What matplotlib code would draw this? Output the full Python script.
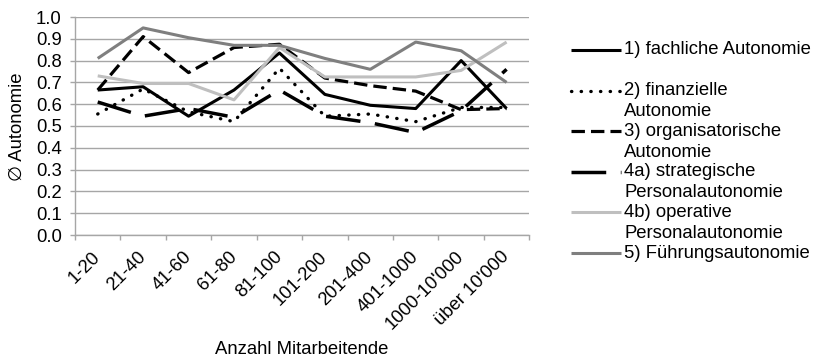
import matplotlib
matplotlib.use("Agg")
import matplotlib.pyplot as plt
from matplotlib.lines import Line2D
import numpy as np

plt.rcParams['font.family'] = ['Liberation Sans', 'DejaVu Sans']
plt.rcParams['font.size'] = 13.3

# Kategorien (Anzahl Mitarbeitende) und Mittelwerte je Autonomie-Dimension
kategorien = ['1-20', '21-40', '41-60', '61-80', '81-100', '101-200',
              '201-400', '401-1000', "1000-10'000", "über 10'000"]
fachlich = [0.665, 0.68, 0.545, 0.665, 0.835, 0.645, 0.595, 0.58, 0.80, 0.58]
finanziell = [0.555, 0.67, 0.565, 0.52, 0.765, 0.545, 0.555, 0.52, 0.585, 0.585]
organisatorisch = [0.665, 0.91, 0.745, 0.86, 0.875, 0.72, 0.685, 0.66, 0.575, 0.58]
strategisch = [0.61, 0.545, 0.58, 0.54, 0.665, 0.545, 0.515, 0.47, 0.57, 0.76]
operativ = [0.73, 0.695, 0.695, 0.62, 0.86, 0.725, 0.725, 0.725, 0.755, 0.885]
fuehrung = [0.81, 0.95, 0.905, 0.87, 0.87, 0.81, 0.76, 0.885, 0.845, 0.70]

labels = ['1) fachliche Autonomie',
          '2) finanzielle\nAutonomie',
          '3) organisatorische\nAutonomie',
          '4a) strategische\nPersonalautonomie',
          '4b) operative\nPersonalautonomie',
          '5) Führungsautonomie']

# Linienstile je Reihe
stile = [
    dict(color='black', lw=2.2, linestyle='-'),
    dict(color='black', lw=2.4, linestyle=(0, (0.1, 2.8)), dash_capstyle='round'),
    dict(color='black', lw=2.3, linestyle=(0, (4.2, 1.9))),
    dict(color='black', lw=2.5, linestyle=(0, (10, 4.2))),
    dict(color='#bfbfbf', lw=2.2, linestyle='-'),
    dict(color='#7f7f7f', lw=2.2, linestyle='-'),
]
reihen = [fachlich, finanziell, organisatorisch, strategisch, operativ, fuehrung]

W, H = 821, 359
fig = plt.figure(figsize=(W / 100, H / 100), dpi=100)
ax = fig.add_axes([75 / W, 1 - 235 / H, 454.3 / W, 218 / H])

x = np.arange(len(kategorien))
for werte, st in zip(reihen, stile):
    ax.plot(x, werte, solid_capstyle='butt', **st)

ax.set_xlim(-0.5, len(kategorien) - 0.5)
ax.set_ylim(0, 1.0)
ax.set_yticks(np.arange(0, 1.01, 0.1))
ax.set_yticklabels(['%.1f' % v for v in np.arange(0, 1.01, 0.1)])
ax.yaxis.grid(True, color='#a6a6a6', lw=1.0)
ax.set_axisbelow(True)

ax.set_xticks(x)
ax.set_xticklabels(kategorien, rotation=45, ha='right', va='center',
                   rotation_mode='anchor')
ax.set_xticks(np.arange(-0.5, len(kategorien), 1), minor=True)
ax.tick_params(axis='x', which='major', length=0, pad=14)
ax.tick_params(axis='x', which='minor', length=3.6, color='#a6a6a6', width=1.0)
ax.tick_params(axis='y', length=3.6, color='#a6a6a6', width=1.0, pad=6)

for s in ['top', 'right']:
    ax.spines[s].set_visible(False)
for s in ['left', 'bottom']:
    ax.spines[s].set_color('#a6a6a6')
    ax.spines[s].set_linewidth(1.0)

fig.text(17 / W, 1 - 127 / H, '\u2205 Autonomie', rotation=90,
         ha='center', va='center')
fig.text(302 / W, 1 - 350 / H, 'Anzahl Mitarbeitende', ha='center', va='center')

# Legende rechts, jeder Eintrag mit zwei Zeilen Platz
y0, schritt, zeile = 50, 40.6, 21
for i, (lab, st) in enumerate(zip(labels, stile)):
    y = y0 + i * schritt
    fig.add_artist(Line2D([571 / W, 621 / W], [1 - y / H, 1 - y / H],
                          transform=fig.transFigure, solid_capstyle='butt', **st))
    for j, teil in enumerate(lab.split('\n')):
        fig.text(624 / W, 1 - (y + j * zeile) / H, teil, va='center', ha='left')

fig.savefig('out.png', dpi=100)
